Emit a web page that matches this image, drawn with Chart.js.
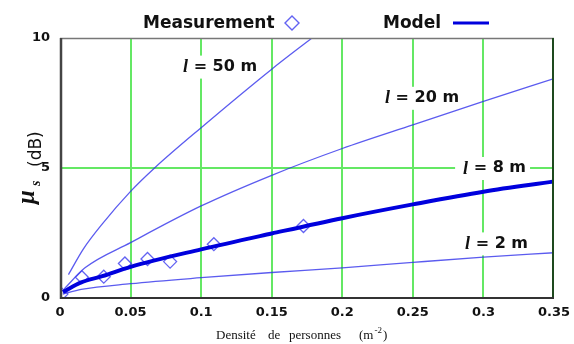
<!DOCTYPE html>
<html>
<head>
<meta charset="utf-8">
<script src="https://cdn.jsdelivr.net/npm/chart.js@4/dist/chart.umd.min.js"></script>
<style>
html,body{margin:0;padding:0;background:#fff;}
canvas{display:block;}
</style>
</head>
<body>
<canvas id="c" width="574" height="344"></canvas>
<script>
// ---- data ----
const xTickLabels = ['0', '0.05', '0.1', '0.15', '0.2', '0.25', '0.3', '0.35'];
const yTickLabels = ['0', '5', '10'];

const measDensity = [0.001, 0.0155, 0.031, 0.046, 0.062, 0.078, 0.109, 0.1725];
const measValues  = [0.15, 0.80, 0.82, 1.33, 1.50, 1.40, 2.07, 2.77];

const l50Density = [0.006, 0.0165, 0.03, 0.05, 0.067, 0.1, 0.15, 0.1785];
const l50Values  = [0.90, 1.88, 2.85, 4.10, 5.0, 6.55, 8.8, 10.0];

const l20Density = [0.003, 0.0177, 0.05, 0.1, 0.15, 0.2, 0.25, 0.3, 0.35];
const l20Values  = [0.35, 1.16, 2.13, 3.54, 4.72, 5.75, 6.66, 7.56, 8.44];

const l8Density = [0.002, 0.015, 0.03, 0.05, 0.1, 0.15, 0.2, 0.25, 0.3, 0.35];
const l8Values  = [0.23, 0.60, 0.84, 1.20, 1.87, 2.48, 3.07, 3.60, 4.09, 4.48];

const l2Density = [0.002, 0.015, 0.05, 0.1, 0.15, 0.2, 0.25, 0.3, 0.35];
const l2Values  = [0.15, 0.33, 0.55, 0.78, 0.98, 1.16, 1.37, 1.57, 1.74];

const curveLabelNames = ['50', '20', '8', '2'];
const curveLabelAt = [[0.0872, 8.9], [0.2303, 7.7], [0.2856, 5.0], [0.287, 2.1]];

const pts = (xs, ys) => xs.map((x, i) => ({x: x, y: ys[i]}));

const THIN = 'rgba(45,45,235,0.78)';
const GREEN = 'rgb(100,232,100)';

function lineDs(label, xs, ys, width, color, order) {
  return {
    label: label, data: pts(xs, ys), showLine: true, borderColor: color,
    borderWidth: width, pointRadius: 0, fill: false,
    cubicInterpolationMode: 'monotone', order: order
  };
}

function labelGeom(chart, i) {
  const c = chart.ctx;
  const px = chart.scales.x.getPixelForValue(curveLabelAt[i][0]);
  const py = chart.scales.y.getPixelForValue(curveLabelAt[i][1]);
  c.font = 'bold italic 18px "Liberation Serif"';
  const lw = c.measureText('l').width;
  c.font = 'bold 16px "DejaVu Sans"';
  const rest = ' = ' + curveLabelNames[i] + ' m';
  const rw = c.measureText(rest).width;
  return {px, py, lw, rw, rest};
}

const decor = {
  id: 'decor',
  beforeDraw(chart) {
    const c = chart.ctx;
    c.save();
    c.fillStyle = '#fff';
    c.fillRect(0, 0, chart.width, chart.height);
    c.restore();
  },
  beforeDatasetsDraw(chart) {
    const c = chart.ctx;
    c.save();
    curveLabelNames.forEach((n, i) => {
      const g = labelGeom(chart, i);
      c.fillStyle = '#fff';
      c.fillRect(g.px - 8, g.py - 11, g.lw + g.rw + 12, 23);
    });
    c.restore();
  },
  afterDatasetsDraw(chart) {
    const c = chart.ctx, a = chart.chartArea;
    c.save();
    curveLabelNames.forEach((n, i) => {
      const g = labelGeom(chart, i);
      c.fillStyle = '#111';
      c.textBaseline = 'middle';
      c.font = 'bold italic 18px "Liberation Serif"';
      c.fillText('l', g.px, g.py + 1);
      c.font = 'bold 16px "DejaVu Sans"';
      c.fillText(g.rest, g.px + g.lw, g.py);
    });
    // frame
    c.lineCap = 'butt';
    c.strokeStyle = '#777'; c.lineWidth = 1.5;
    c.beginPath(); c.moveTo(a.left, a.top + 0.5); c.lineTo(a.right, a.top + 0.5); c.stroke();
    c.strokeStyle = '#1e4a1e'; c.lineWidth = 2;
    c.beginPath(); c.moveTo(a.right - 1, a.top); c.lineTo(a.right - 1, a.bottom); c.stroke();
    c.strokeStyle = '#444'; c.lineWidth = 2.5;
    c.beginPath(); c.moveTo(a.left + 1, a.top); c.lineTo(a.left + 1, a.bottom + 1); c.stroke();
    c.strokeStyle = '#333'; c.lineWidth = 2;
    c.beginPath(); c.moveTo(a.left, a.bottom); c.lineTo(a.right, a.bottom); c.stroke();
    c.restore();
  },
  afterDraw(chart) {
    const c = chart.ctx;
    c.save();
    // legend
    c.fillStyle = '#111';
    c.textBaseline = 'alphabetic';
    c.font = 'bold 17px "DejaVu Sans"';
    c.fillText('Measurement', 143, 28);
    c.fillText('Model', 383, 28);
    c.strokeStyle = 'rgba(70,70,240,0.85)'; c.lineWidth = 1.4;
    c.beginPath();
    c.moveTo(292, 16); c.lineTo(299, 23); c.lineTo(292, 30); c.lineTo(285, 23); c.closePath();
    c.stroke();
    c.strokeStyle = '#0000dd'; c.lineWidth = 3;
    c.beginPath(); c.moveTo(453, 23); c.lineTo(489, 23); c.stroke();
    // y title (rotated)
    c.save();
    c.translate(39, 166);
    c.rotate(-Math.PI / 2);
    c.fillStyle = '#111';
    c.font = 'bold italic 25px "Liberation Serif"';
    c.fillText('\u03bc', -38, -5);
    c.font = 'bold italic 14px "Liberation Serif"';
    c.fillText('s', -20, 1);
    c.font = '17px "DejaVu Sans"';
    c.fillText('(dB)', -1, 2);
    c.restore();
    // x title
    c.font = '13px "Liberation Serif"';
    c.fillStyle = '#111';
    c.fillText('Densit\u00e9', 216, 339);
    c.fillText('de', 268, 339);
    c.fillText('personnes', 289, 339);
    c.fillText('(m', 359, 339);
    const mw = c.measureText('(m').width;
    c.font = '9px "Liberation Serif"';
    c.fillText('-2', 359 + mw + 1, 333);
    const sw = c.measureText('-2').width;
    c.font = '13px "Liberation Serif"';
    c.fillText(')', 359 + mw + sw + 2, 339);
    c.restore();
  }
};

new Chart(document.getElementById('c'), {
  type: 'scatter',
  data: {
    datasets: [
      lineDs('Model', l8Density, l8Values, 4, '#0000dd', 0),
      {
        label: 'Measurement', data: pts(measDensity, measValues), showLine: false,
        pointStyle: 'rectRot', pointRadius: 6.5, pointBorderWidth: 1.3,
        pointBorderColor: 'rgba(70,70,240,0.85)', pointBackgroundColor: 'rgba(0,0,0,0)',
        order: 1
      },
      lineDs('l = 50 m', l50Density, l50Values, 1.3, THIN, 2),
      lineDs('l = 20 m', l20Density, l20Values, 1.3, THIN, 2),
      lineDs('l = 2 m', l2Density, l2Values, 1.3, THIN, 2)
    ]
  },
  options: {
    responsive: false,
    animation: false,
    devicePixelRatio: 1,
    layout: {padding: {top: 38, right: 20, left: 0, bottom: 0}},
    plugins: {legend: {display: false}, tooltip: {enabled: false}, title: {display: false}},
    scales: {
      x: {
        type: 'linear', min: 0, max: 0.35,
        afterFit: s => { s.height = 46; s.paddingLeft = 0; s.paddingRight = 0; },
        border: {display: false},
        grid: {
          drawTicks: false, lineWidth: 2,
          color: ctx => (ctx.index === 0 || ctx.index === xTickLabels.length - 1) ? 'rgba(0,0,0,0)' : GREEN
        },
        ticks: {
          stepSize: 0.05, padding: 7, color: '#111', maxRotation: 0, autoSkip: false,
          font: {family: 'DejaVu Sans', weight: 'bold', size: 13},
          callback: (v, i) => xTickLabels[i]
        }
      },
      y: {
        min: 0, max: 10,
        afterFit: s => { s.width = 60; s.paddingTop = 0; s.paddingBottom = 0; },
        border: {display: false},
        grid: {
          drawTicks: false, lineWidth: 2,
          color: ctx => ctx.index === 1 ? GREEN : 'rgba(0,0,0,0)'
        },
        ticks: {
          stepSize: 5, padding: 10, color: '#111',
          font: {family: 'DejaVu Sans', weight: 'bold', size: 13},
          callback: (v, i) => yTickLabels[i]
        }
      }
    }
  },
  plugins: [decor]
});
</script>
</body>
</html>
